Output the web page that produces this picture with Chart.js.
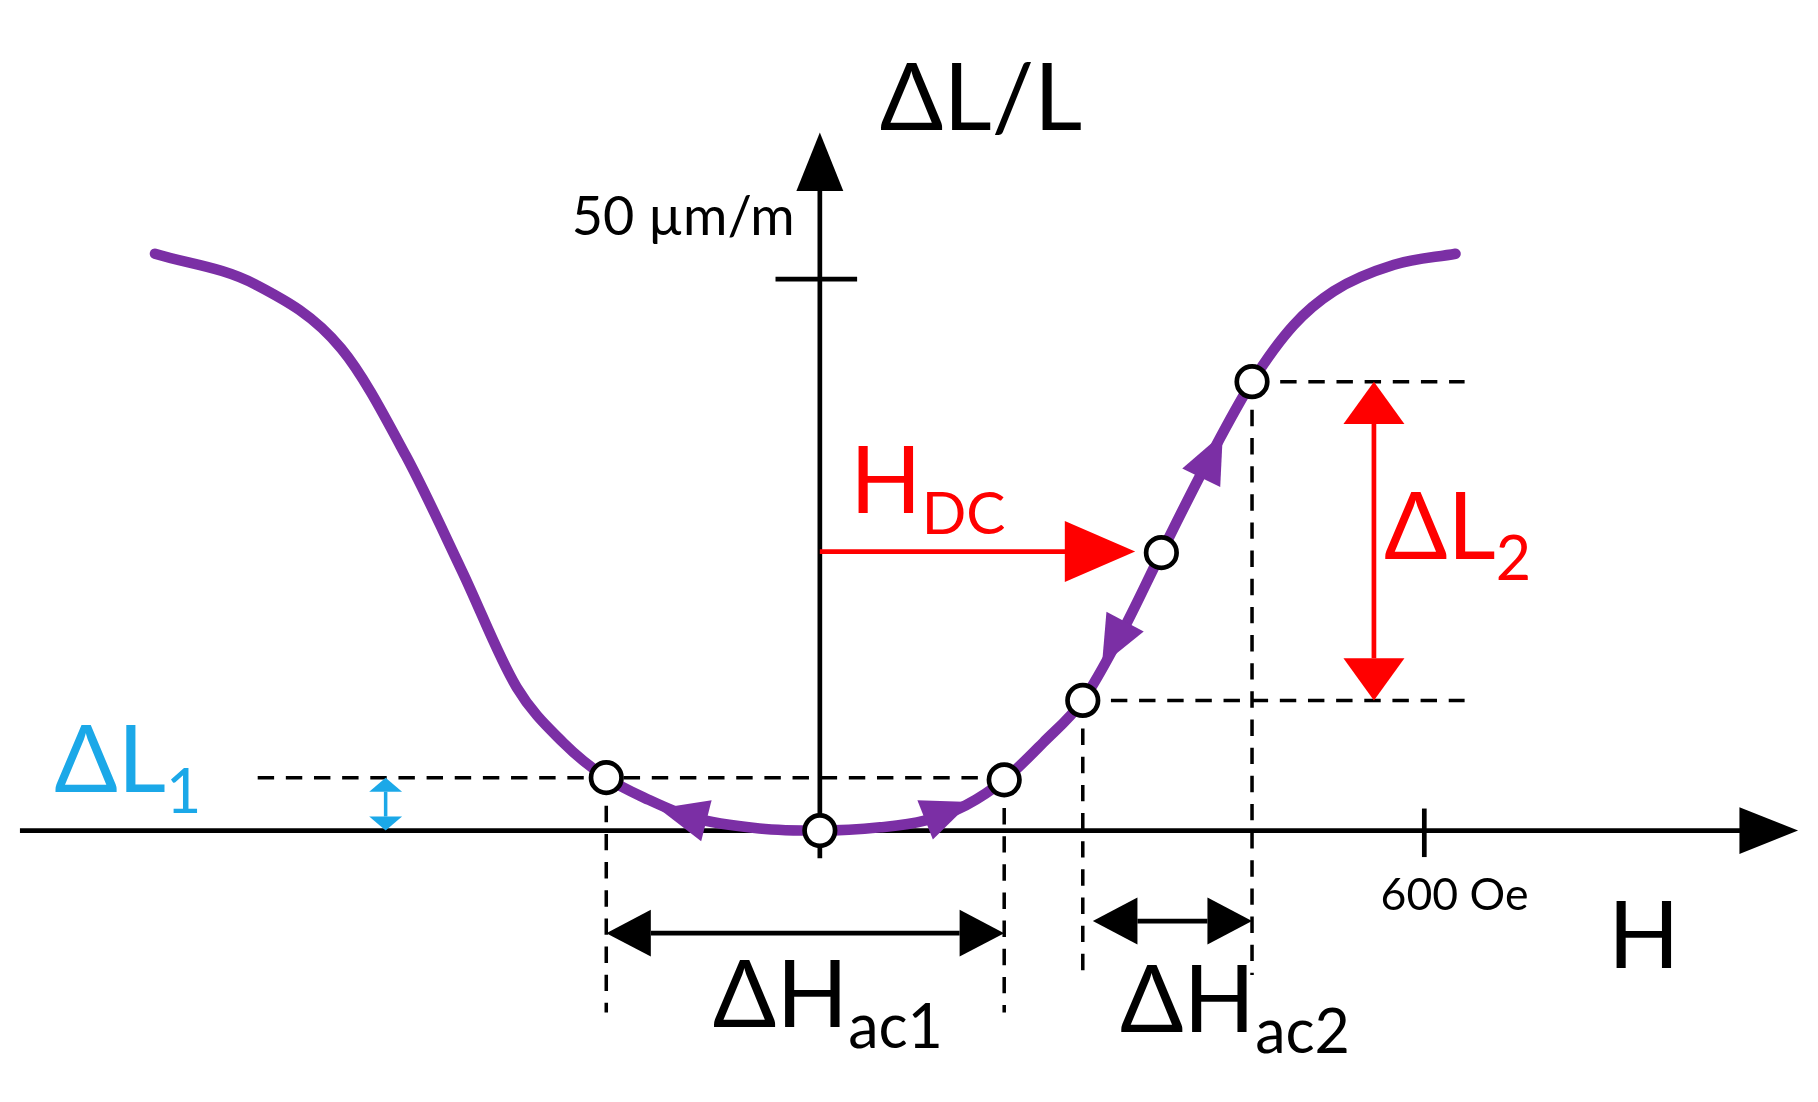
<!DOCTYPE html>
<html>
<head>
<meta charset="UTF-8">
<script src="https://cdn.jsdelivr.net/npm/chart.js"></script>
<style>html,body{margin:0;padding:0;background:#fff;overflow:hidden}</style>
</head>
<body>
<canvas id="c" width="1818" height="1102"></canvas>
<script>
// curve: H (Oe) vs dL/L (um/m)
const curveH = [-660, -560, -475, -411, -355, -301, -255, -212, -170, -127, -60, 0, 60, 104, 145, 183, 222, 261, 300, 339, 388, 429, 470, 510, 570, 631];
const curveY = [52.3, 49.5, 43.7, 34.0, 23.5, 13.0, 8.0, 4.8, 2.8, 1.2, 0.2, 0, 0.3, 0.9, 2.3, 4.6, 8.0, 11.8, 18.0, 25.2, 34.0, 40.7, 45.8, 48.9, 51.3, 52.3];
// working points
const ptH = [-212, 0, 183, 261, 339, 429];
const ptY = [4.8, 0, 4.6, 11.8, 25.2, 40.7];
const yTick = 50, xTick = 600;

const S = 1818 / 1550;
const purple = '#7b2fa5';
let ch;
function P(h, v) { return [ch.scales.x.getPixelForValue(h), ch.scales.y.getPixelForValue(v)]; }
function line(a, b, col, w, dash) {
  const c = ch.ctx; c.save(); c.strokeStyle = col; c.lineWidth = w * S; c.setLineDash(dash ? dash.map(d => d * S) : []);
  c.beginPath(); c.moveTo(a[0], a[1]); c.lineTo(b[0], b[1]); c.stroke(); c.restore();
}
function head(tip, from, col, len, wid) {
  const c = ch.ctx, dx = tip[0] - from[0], dy = tip[1] - from[1], d = Math.hypot(dx, dy), ux = dx / d, uy = dy / d;
  len *= S; wid *= S;
  c.save(); c.fillStyle = col; c.beginPath(); c.moveTo(tip[0], tip[1]);
  c.lineTo(tip[0] - ux * len - uy * wid, tip[1] - uy * len + ux * wid);
  c.lineTo(tip[0] - ux * len + uy * wid, tip[1] - uy * len - ux * wid);
  c.closePath(); c.fill(); c.restore();
}
function dbl(a, b, col, w, len, wid) {
  const dx = b[0] - a[0], dy = b[1] - a[1], d = Math.hypot(dx, dy);
  const sa = [a[0] + dx / d * len * S, a[1] + dy / d * len * S], sb = [b[0] - dx / d * len * S, b[1] - dy / d * len * S];
  line(sa, sb, col, w); head(a, b, col, len, wid); head(b, a, col, len, wid);
}
function txt(s, p, size, col, align, sub, subSize) {
  const c = ch.ctx; c.save(); c.fillStyle = col; c.textBaseline = 'alphabetic';
  c.font = (size * S) + 'px Lato';
  const w1 = c.measureText(s).width;
  c.font = ((subSize || size * 0.65) * S) + 'px Lato';
  const w2 = sub ? c.measureText(sub).width : 0;
  let x = p[0];
  if (align === 'center') x -= (w1 + w2) / 2; else if (align === 'right') x -= (w1 + w2);
  c.font = (size * S) + 'px Lato'; c.fillText(s, x, p[1]);
  if (sub) { c.font = ((subSize || size * 0.65) * S) + 'px Lato'; c.fillText(sub, x + w1, p[1] + size * 0.22 * S); }
  c.restore();
}

const deco = {
  id: 'deco',
  beforeDatasetsDraw(chart) {
    ch = chart;
    // axes
    line(P(-794, 0), P(940, 0), '#000', 4);
    head(P(971, 0), P(900, 0), '#000', 50, 20);
    line(P(0, -2.5), P(0, 58), '#000', 4);
    head(P(0, 63.3), P(0, 50), '#000', 50, 20);
    line(P(-44, yTick), P(37, yTick), '#000', 4);
    line(P(xTick, 2), P(xTick, -2.4), '#000', 4);
    // dashed guides
    const dk = [14, 10];
    line(P(-558, 4.8), P(183, 4.8), '#000', 3, dk);
    line(P(-212, 4.8), P(-212, -16.5), '#000', 3, dk);
    line(P(183, 4.6), P(183, -16.5), '#000', 3, dk);
    line(P(261, 11.8), P(261, -13.1), '#000', 3, dk);
    line(P(429, 40.7), P(429, -13.1), '#000', 3, dk);
    line(P(429, 40.7), P(640, 40.7), '#000', 3, dk);
    line(P(261, 11.8), P(640, 11.8), '#000', 3, dk);
  },
  afterDatasetsDraw(chart) {
    ch = chart;
    // purple arrowheads along the curve
    head(P(-160, 2.0), P(-100, 0.6), purple, 42, 18);
    head(P(150, 2.6), P(100, 0.8), purple, 42, 18);
    head(P(400, 36.0), P(360, 28.5), purple, 42, 18);
    head(P(280, 15.0), P(315, 21.0), purple, 42, 18);
    // H_DC arrow
    line(P(0, 25.3), P(255, 25.3), 'red', 4);
    head(P(313, 25.3), P(0, 25.3), 'red', 60, 26);
    // delta L2
    dbl(P(550, 40.7), P(550, 11.8), 'red', 4, 36, 26);
    // delta Hac arrows
    dbl(P(-212, -9.3), P(183, -9.3), '#000', 4, 38, 20);
    dbl(P(271, -8.2), P(429, -8.2), '#000', 4, 38, 20);
    // delta L1 small arrow
    dbl(P(-431, 0), P(-431, 4.8), '#1ba8e8', 3, 12, 14);
    // labels
    txt('\u0394L/L', P(160, 63.5), 80, '#000', 'center');
    txt('50 \u00b5m/m', P(-25, 54), 46, '#000', 'right');
    txt('600 Oe', P(630, -7.2), 38, '#000', 'center');
    txt('H', P(818, -12.5), 80, '#000', 'center');
    txt('H', P(30, 28.8), 80, 'red', 'left', 'DC', 50);
    txt('\u0394L', P(560, 24.6), 80, 'red', 'left', '2', 52);
    txt('\u0394L', P(-760, 3.5), 80, '#1ba8e8', 'left', '1', 52);
    txt('\u0394H', P(8, -17.8), 80, '#000', 'center', 'ac1', 52);
    txt('\u0394H', P(412, -18.3), 80, '#000', 'center', 'ac2', 52);
  }
};

new Chart(document.getElementById('c'), {
  type: 'scatter',
  data: {
    datasets: [
      { data: ptH.map((h, i) => ({ x: h, y: ptY[i] })), showLine: false, pointRadius: 13 * S, pointBorderWidth: 4 * S,
        pointBackgroundColor: '#fff', pointBorderColor: '#000', order: 0 },
      { data: curveH.map((h, i) => ({ x: h, y: curveY[i] })), showLine: true, borderColor: purple, borderWidth: 9 * S,
        pointRadius: 0, cubicInterpolationMode: 'monotone', borderCapStyle: 'round', order: 1 }
    ]
  },
  options: {
    responsive: false, animation: false, devicePixelRatio: 1,
    layout: { padding: 0 },
    plugins: { legend: { display: false }, tooltip: { enabled: false } },
    scales: {
      x: { type: 'linear', min: -794, max: 971, display: false },
      y: { type: 'linear', min: -22.8, max: 73.5, display: false }
    }
  },
  plugins: [deco]
});
</script>
</body>
</html>
